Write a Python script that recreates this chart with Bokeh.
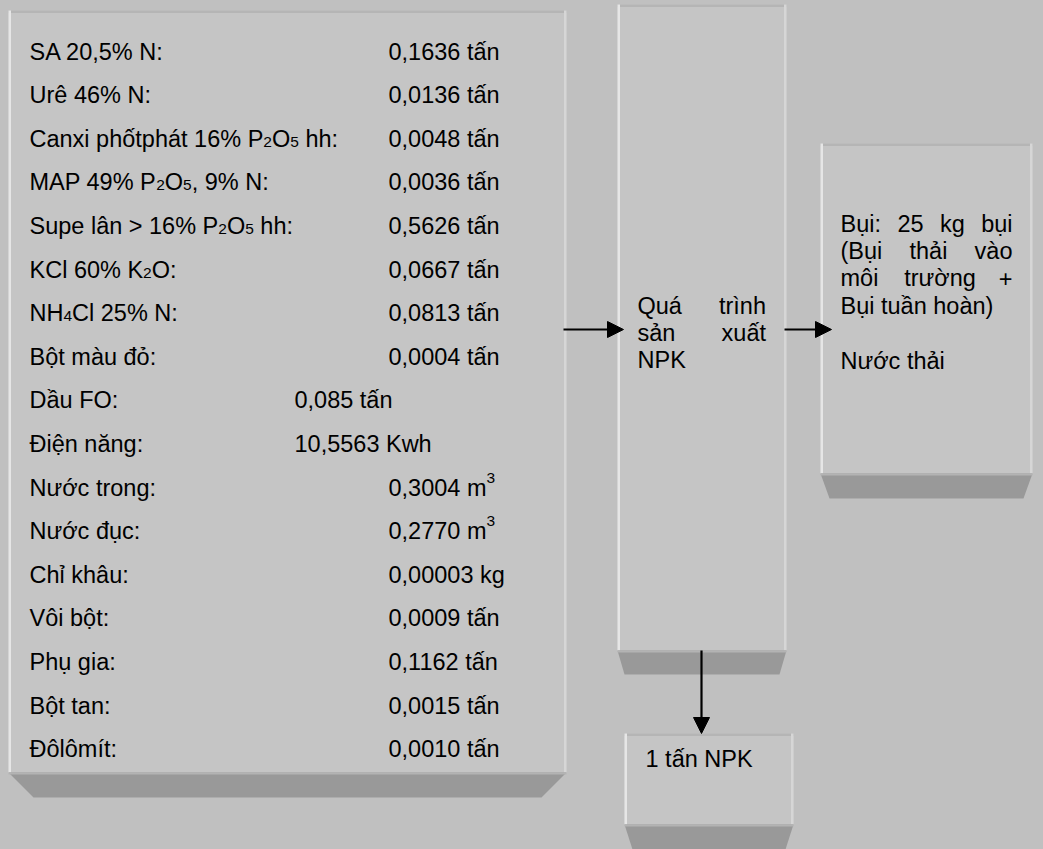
import unicodedata
from bokeh.plotting import figure
from bokeh.models import Range1d, Arrow, NormalHead, ColumnDataSource
from bokeh.core.properties import value
from bokeh.embed import file_html
from bokeh.resources import INLINE

# ---------------- data ----------------
input_labels = [
    "SA 20,5% N:", "Urê 46% N:", "Canxi phốtphát 16% P₂O₅ hh:",
    "MAP 49% P₂O₅, 9% N:", "Supe lân > 16% P₂O₅ hh:", "KCl 60% K₂O:",
    "NH₄Cl 25% N:", "Bột màu đỏ:", "Dầu FO:", "Điện năng:", "Nước trong:",
    "Nước đục:", "Chỉ khâu:", "Vôi bột:", "Phụ gia:", "Bột tan:", "Đôlômít:",
]
input_amounts = [
    "0,1636", "0,0136", "0,0048", "0,0036", "0,5626", "0,0667", "0,0813",
    "0,0004", "0,085", "10,5563", "0,3004", "0,2770", "0,00003", "0,0009",
    "0,1162", "0,0015", "0,0010",
]
input_units = [
    "tấn", "tấn", "tấn", "tấn", "tấn", "tấn", "tấn", "tấn", "tấn", "Kwh",
    "m³", "m³", "kg", "tấn", "tấn", "tấn", "tấn",
]
input_column = ["far"] * 8 + ["near", "near"] + ["far"] * 7

process_lines = ["Quá trình", "sản xuất", "NPK"]
process_justify = [True, True, False]
emission_lines = ["Bụi: 25 kg bụi", "(Bụi thải vào", "môi trường +",
                  "Bụi tuần hoàn)", "", "Nước thải"]
emission_justify = [True, True, True, False, False, False]
product_label = "1 tấn NPK"

# ---------------- style / layout ----------------
BG = "#c0c0c0"
FACE = "#c5c5c5"
BEVEL = "#999999"
FONT = "Liberation Sans"
FS = 23.5
FS_SMALL = 15.5
TEXT_DY = -8  # empirical correction of the rendered baseline

# Arial / Liberation Sans advance widths (1/1000 em)
W = {' ': 278, '!': 278, '(': 333, ')': 333, '+': 584, ',': 278, '-': 333,
     '.': 278, ':': 278, '>': 584, '%': 889}
for d in "0123456789":
    W[d] = 556
W.update(dict(A=667, B=667, C=722, D=722, E=667, F=611, G=778, H=722, I=278,
              J=500, K=667, L=556, M=833, N=722, O=778, P=667, Q=778, R=722,
              S=667, T=611, U=722, V=667, W=944, X=667, Y=667, Z=611))
W.update(dict(a=556, b=556, c=500, d=556, e=556, f=278, g=556, h=556, i=222,
              j=222, k=500, l=222, m=833, n=556, o=556, p=556, q=556, r=333,
              s=500, t=278, u=556, v=500, w=722, x=500, y=500, z=500))
W.update({'Đ': 722, 'đ': 556})


def char_w(ch):
    if ch in W:
        return W[ch]
    nfd = unicodedata.normalize("NFD", ch)
    base = nfd[0]
    if "\u031b" in nfd:
        return 600
    if base == "i" and ch not in "ịỉ":
        return 278
    return W.get(base, 556)


def text_w(s, size=FS):
    return sum(char_w(c) for c in s) * size / 1000.0


SUB = {chr(0x2080 + k): str(k) for k in range(10)}
SUP = {'²': '2', '³': '3'}


def segments(s):
    segs = []
    for ch in s:
        if ch in SUB:
            kind, c = "sub", SUB[ch]
        elif ch in SUP:
            kind, c = "sup", SUP[ch]
        else:
            kind, c = "n", ch
        if segs and segs[-1][1] == kind:
            segs[-1][0] += c
        else:
            segs.append([c, kind])
    return segs


big = dict(x=[], y=[], t=[])
small = dict(x=[], y=[], t=[])


def put(store, x, y, txt, size):
    # SVG collapses leading / trailing spaces: advance x instead
    lead = len(txt) - len(txt.lstrip(" "))
    x += text_w(" " * lead, size)
    core = txt.strip(" ")
    if core:
        store["x"].append(x)
        store["y"].append(y + TEXT_DY)
        store["t"].append(core)


def rich(x, y, s):
    for txt, kind in segments(s):
        if kind == "n":
            put(big, x, y, txt, FS)
            x += text_w(txt)
        else:
            dy = 3 if kind == "sub" else -10
            put(small, x, y + dy, txt, FS_SMALL)
            x += text_w(txt, FS_SMALL)
    return x


def justify(words, x0, x1, y):
    widths = [text_w(w) for w in words]
    gap = (x1 - x0 - sum(widths)) / max(len(words) - 1, 1)
    x = x0
    for i, (w, wd) in enumerate(zip(words, widths)):
        if i == len(words) - 1 and len(words) > 1:
            x = x1 - wd
        rich(x, y, w)
        x += wd + gap


p = figure(width=1043, height=849, x_range=Range1d(0, 1043),
           y_range=Range1d(849, 0), output_backend="svg",
           toolbar_location=None, min_border=0,
           x_axis_location=None, y_axis_location=None)
p.grid.visible = False
p.outline_line_color = None
p.background_fill_color = BG
p.border_fill_color = BG

# boxes: left, right, top, bottom, bevel inset, bevel depth
boxes = [
    (8, 566, 10, 772, 25, 25),
    (617, 786, 4, 650, 7, 24),
    (820, 1032, 143, 473, 9, 25),
    (624, 793, 733, 824, 8, 25),
]
bl = [b[0] for b in boxes]
br = [b[1] for b in boxes]
bt = [b[2] for b in boxes]
bb = [b[3] for b in boxes]
p.quad(left=bl, right=br, top=bt, bottom=bb, fill_color=FACE, line_color=None)
# top darker strip
p.quad(left=bl, right=br, top=bt, bottom=[t + 2.5 for t in bt],
       fill_color="#b5b5b5", line_color=None)
# left light strip
p.quad(left=bl, right=[l + 2.5 for l in bl], top=bt, bottom=bb,
       fill_color="#e6e6e6", line_color=None)
# right light strip
p.quad(left=[r - 2.5 for r in br], right=br, top=bt, bottom=bb,
       fill_color="#d6d6d6", line_color=None)
# bevels
xs = [[l, r, r - ins, l + ins] for (l, r, t, b, ins, dep) in boxes]
ys = [[b, b, b + dep, b + dep] for (l, r, t, b, ins, dep) in boxes]
p.patches(xs, ys, fill_color=BEVEL, line_color=None)
p.quad(left=bl, right=br, top=bb, bottom=[b + 2 for b in bb],
       fill_color="#b3b3b3", line_color=None)

# left box rows
for i, (lab, amt, unit, col) in enumerate(zip(input_labels, input_amounts,
                                              input_units, input_column)):
    y = 59 + 43.6 * i
    rich(29, y, lab)
    vx = 388 if col == "far" else 294
    rich(vx, y, amt + " " + unit)

# process box
for i, (line, jf) in enumerate(zip(process_lines, process_justify)):
    y = 313 + 27.4 * i
    if jf:
        justify(line.split(" "), 637, 765.5, y)
    else:
        rich(637, y, line)

# emission box
for i, (line, jf) in enumerate(zip(emission_lines, emission_justify)):
    y = 231 + 27.4 * i
    if not line:
        continue
    if jf:
        justify(line.split(" "), 840, 1012, y)
    else:
        rich(840, y, line)

# product box
rich(645, 766, product_label)

p.text(x="x", y="y", text="t", source=ColumnDataSource(big),
       text_font=value(FONT), text_font_size=f"{FS}px", text_color="black",
       text_align="left", text_baseline="alphabetic")
p.text(x="x", y="y", text="t", source=ColumnDataSource(small),
       text_font=value(FONT), text_font_size=f"{FS_SMALL}px", text_color="black",
       text_align="left", text_baseline="alphabetic")

# arrows
arrows = [(563, 329, 623, 329), (784, 329, 831, 329), (701, 650, 701, 733)]
for (x0, y0, x1, y1) in arrows:
    p.add_layout(Arrow(end=NormalHead(size=16, fill_color="black",
                                      line_color="black"),
                       x_start=x0, y_start=y0, x_end=x1, y_end=y1,
                       line_width=2.2, line_color="black"))

html = file_html(p, INLINE)
html = html.replace("</head>",
                    "<style>html, body { background-color: #c0c0c0; }</style></head>", 1)
open("out.html", "w", encoding="utf-8").write(html)
